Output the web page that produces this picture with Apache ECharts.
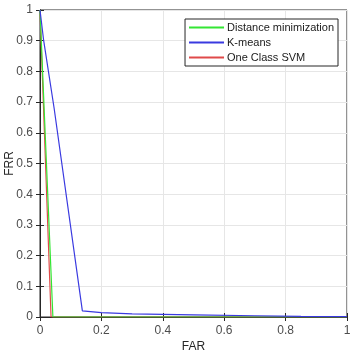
<!DOCTYPE html>
<html><head><meta charset="utf-8">
<script src="https://cdn.jsdelivr.net/npm/echarts@6/dist/echarts.min.js"></script>
<style>html,body{margin:0;padding:0;background:#fff}#c{width:352px;height:355px}</style>
</head><body><div id="c"></div>
<script>
var seriesNames = ['Distance minimization', 'K-means', 'One Class SVM'];
var distMin = [[0, 1], [0.042, 0], [1, 0]];
var kmeans = [[0, 1], [0.012, 0.9], [0.046, 0.68], [0.138, 0.02], [0.2, 0.014], [0.3, 0.01], [0.5, 0.007], [0.7, 0.004], [0.85, 0.002], [1, 0.001]];
var ocsvm = [[0, 1], [0.036, 0], [1, 0]];
var xTicks = [0, 0.2, 0.4, 0.6, 0.8, 1];
var yTicks = [0, 0.1, 0.2, 0.3, 0.4, 0.5, 0.6, 0.7, 0.8, 0.9, 1];
var colors = ['#33e633', '#3a3ae0', '#e04a4a'];

var chart = echarts.init(document.getElementById('c'));
var font = 'Liberation Sans, Arial, sans-serif';
var lab = {color: '#4d4d4d', fontSize: 12, fontFamily: font};
function fmt(v){ return String(Math.round(v*10)/10); }
chart.setOption({
  animation: false,
  grid: {left: 40, right: 5, top: 10, bottom: 38, outerBoundsMode: 'none', containLabel: false, show: true, borderColor: '#262626', borderWidth: 1},
  legend: {
    data: seriesNames, orient: 'vertical', right: 14, top: 19,
    backgroundColor: '#fff', borderColor: '#262626', borderWidth: 1, borderRadius: 0,
    padding: [3, 4, 3, 4], itemGap: 4, itemWidth: 35, itemHeight: 2, icon: 'rect',
    textStyle: {color: '#1a1a1a', fontSize: 11, fontFamily: font, padding: [0, 0, 0, -2]}
  },
  xAxis: [{
    type: 'value', min: 0, max: 1, interval: 0.2, name: 'FAR', nameLocation: 'middle', nameGap: 24, nameMoveOverlap: false,
    nameTextStyle: {color: '#262626', fontSize: 12, fontFamily: font},
    axisLine: {show: true, lineStyle: {color: '#262626'}},
    axisTick: {show: true, inside: true, length: 4, lineStyle: {color: '#262626'}},
    axisLabel: Object.assign({margin: 8, formatter: fmt}, lab),
    splitLine: {show: true, lineStyle: {color: '#e6e6e6'}}
  }, {
    type: 'value', position: 'top', min: 0, max: 1, interval: 0.2,
    axisLine: {show: true, lineStyle: {color: '#262626'}},
    axisTick: {show: true, inside: true, length: 4, lineStyle: {color: '#262626'}},
    axisLabel: {show: false}, splitLine: {show: false}
  }],
  yAxis: [{
    type: 'value', min: 0, max: 1, interval: 0.1, name: 'FRR', nameLocation: 'middle', nameGap: 24, nameMoveOverlap: false,
    nameTextStyle: {color: '#262626', fontSize: 12, fontFamily: font},
    axisLine: {show: true, lineStyle: {color: '#262626'}},
    axisTick: {show: true, inside: true, length: 4, lineStyle: {color: '#262626'}},
    axisLabel: Object.assign({margin: 7, formatter: fmt}, lab),
    splitLine: {show: true, lineStyle: {color: '#e6e6e6'}}
  }, {
    type: 'value', position: 'right', min: 0, max: 1, interval: 0.1,
    axisLine: {show: true, lineStyle: {color: '#262626'}},
    axisTick: {show: true, inside: true, length: 4, lineStyle: {color: '#262626'}},
    axisLabel: {show: false}, splitLine: {show: false}
  }],
  series: [
    {name: seriesNames[2], type: 'line', data: ocsvm, showSymbol: false, lineStyle: {width: 1.2, color: colors[2]}, itemStyle: {color: colors[2]}, z: 2},
    {name: seriesNames[0], type: 'line', data: distMin, showSymbol: false, lineStyle: {width: 1.2, color: colors[0]}, itemStyle: {color: colors[0]}, z: 3},
    {name: seriesNames[1], type: 'line', data: kmeans, showSymbol: false, lineStyle: {width: 1.2, color: colors[1]}, itemStyle: {color: colors[1]}, z: 4}
  ]
});
</script></body></html>
